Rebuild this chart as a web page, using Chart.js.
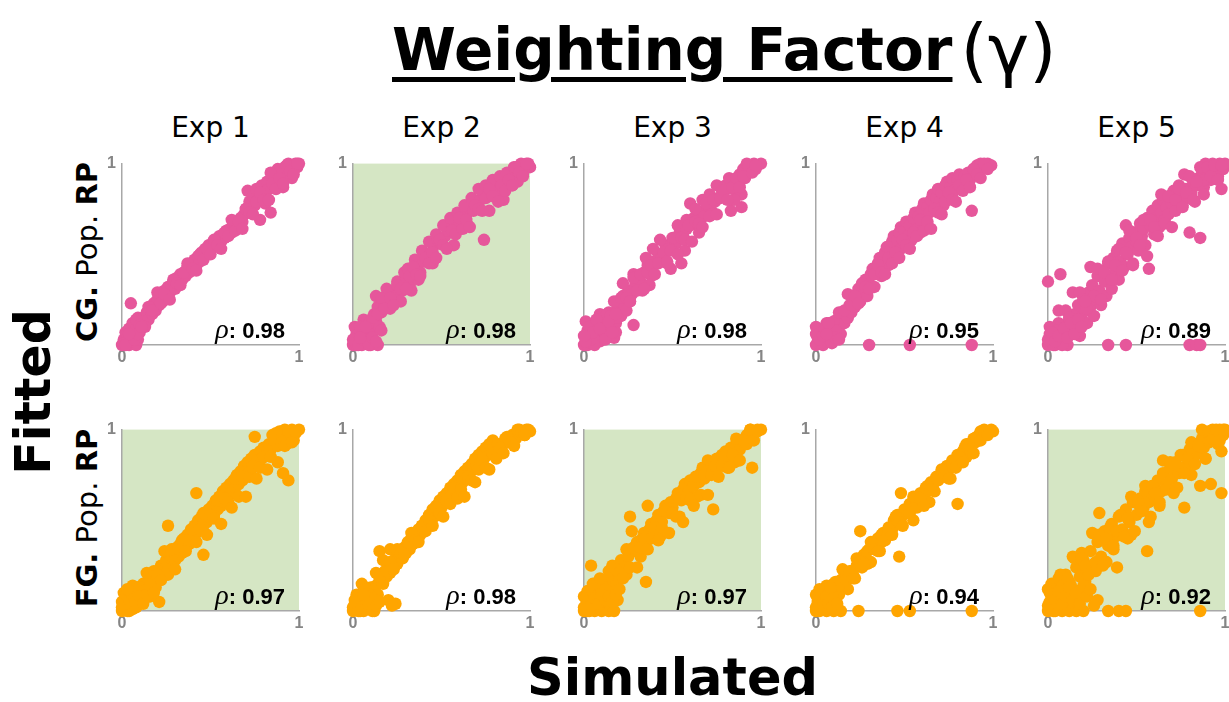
<!DOCTYPE html>
<html>
<head>
<meta charset="utf-8">
<script src="https://cdn.jsdelivr.net/npm/chart.js@4.4.1/dist/chart.umd.min.js"></script>
<style>
  html, body { margin: 0; padding: 0; }
  body { width: 1229px; height: 702px; background: #fff; position: relative; overflow: hidden; font-family: 'DejaVu Sans', sans-serif; color: #000; }
  .abs { position: absolute; white-space: nowrap; line-height: 1; }
  #title { left: 392px; top: 11px; }
  #title .wf { font-weight: bold; font-size: 58px; text-decoration: underline; text-decoration-thickness: 5px; text-underline-offset: 7px; }
  #title .gm { font-size: 70px; font-weight: normal; margin-left: 8px; position: relative; top: 4px; }
  .exp { font-size: 28px; text-align: center; width: 200px; top: 114px; }
  .rot { width: 0; height: 0; }
  .rot > div { position: absolute; left: 0; top: 0; transform: translate(-50%, -50%) rotate(-90deg); white-space: nowrap; line-height: 1; }
  #fitted > div { font-weight: bold; font-size: 49px; }
  .grp > div { font-size: 29px; }
  .grp b { font-weight: bold; }
  #simulated { font-weight: bold; font-size: 51px; top: 652px; width: 400px; text-align: center; }
  .rho { width: 200px; text-align: right; }
  .rho .r { font-family: 'Liberation Serif', serif; font-style: italic; font-size: 28px; }
  .rho .v { font-family: 'Liberation Sans', sans-serif; font-weight: bold; font-size: 22px; }
  .panel { position: absolute; }
</style>
</head>
<body>
<div id="title" class="abs"><span class="wf">Weighting Factor</span><span class="gm">(γ)</span></div>
<div id="fitted" class="abs rot"><div>Fitted</div></div>
<div id="simulated" class="abs">Simulated</div>

<script>
// Column headings, row groups and correlation labels
const experiments = ['Exp 1', 'Exp 2', 'Exp 3', 'Exp 4', 'Exp 5'];
const groupNames = ['CG.', 'FG.'];
const rhoCG = [0.98, 0.98, 0.98, 0.95, 0.89];
const rhoFG = [0.97, 0.98, 0.97, 0.94, 0.92];
// Panels whose plot area is highlighted
const highlightCG = [false, true, false, false, false];
const highlightFG = [true, false, true, false, true];
const axisTicks = [0, 1];

// Simulated vs fitted RP values, stored as flat (x, y) pairs in hundredths
const cgExp1 = [0,0, 2,1, 4,0, 6,1, 8,0, 1,3, 3,4, 5,2, 7,5, 9,3, 2,7, 5,23, 4,9, 6,12, 8,9, 10,7, 11,12, 9,15, 12,15, 13,11, 14,18, 15,14, 16,20, 17,17, 18,23, 19,19, 20,25, 21,22, 22,28, 23,24, 24,30, 25,27, 26,32, 27,29, 28,33, 29,35, 30,31, 31,37, 32,34, 33,39, 34,36, 35,40, 36,38, 37,43, 38,40, 39,45, 40,42, 41,47, 42,44, 43,49, 44,46, 45,51, 46,48, 47,53, 48,50, 49,55, 50,52, 51,56, 52,54, 53,58, 54,56, 55,60, 56,57, 57,61, 58,59, 59,63, 60,61, 61,64, 62,62, 63,66, 64,65, 65,68, 66,66, 67,70, 68,68, 69,72, 70,75, 71,85, 72,79, 73,73, 74,82, 75,77, 76,86, 77,80, 78,69, 79,88, 80,84, 81,78, 82,90, 83,86, 84,73, 85,92, 86,88, 87,94, 88,91, 89,96, 90,93, 91,87, 92,98, 93,95, 94,100, 95,97, 96,92, 97,99, 98,100, 99,98, 100,100, 88,97, 84,95,
  3,6, 5,3, 8,14, 10,11, 13,10, 15,21, 17,19, 20,29, 22,23, 24,28, 27,25, 29,36, 31,34, 33,33, 35,40, 37,45, 40,42, 42,41, 44,50, 46,47, 48,53, 50,50, 52,58, 54,55, 56,53, 58,62, 60,60, 62,69, 64,63, 66,68, 68,64, 70,75, 72,73, 74,72, 76,79, 78,84, 80,80, 83,80, 85,89, 87,86, 89,92, 91,89, 93,99, 95,96, 97,94, 99,100, 1,1, 3,2, 5,5, 2,0, 7,3, 9,6, 11,10, 4,6];

const cgExp2 = [0,0, 1,3, 3,1, 5,0, 8,2, 10,0, 12,1, 14,0, 2,6, 1,10, 6,14, 4,8, 8,7, 11,9, 13,13, 9,12, 15,10, 12,17, 14,21, 16,18, 18,22, 13,27, 17,26, 20,25, 22,29, 24,27, 19,31, 26,32, 28,30, 25,35, 30,36, 32,33, 29,40, 34,38, 31,42, 36,44, 38,40, 35,47, 40,46, 42,49, 39,52, 44,51, 46,55, 43,57, 48,58, 50,56, 47,61, 52,60, 54,63, 51,66, 56,65, 58,62, 55,70, 60,68, 62,71, 59,73, 64,72, 66,75, 63,77, 74,58, 68,74, 70,78, 67,81, 72,80, 74,83, 71,86, 76,82, 78,85, 75,88, 80,87, 82,84, 79,91, 84,89, 86,86, 83,93, 88,91, 90,88, 87,95, 92,93, 94,96, 91,98, 96,94, 98,99, 95,100, 100,98, 97,97, 99,100, 93,90, 85,80, 77,74, 65,66, 57,55, 45,45, 37,36, 27,24, 21,20, 33,30,
  2,0, 4,10, 6,7, 9,6, 11,15, 14,17, 16,26, 18,20, 21,26, 23,22, 25,33, 27,31, 30,31, 32,38, 34,43, 36,39, 38,38, 41,48, 43,45, 45,51, 47,48, 49,58, 51,55, 53,53, 56,63, 58,61, 60,70, 62,64, 64,69, 66,65, 69,77, 71,75, 73,74, 75,81, 77,86, 79,82, 82,79, 84,88, 86,85, 88,91, 90,88, 92,98, 94,95, 96,93, 98,100, 0,3, 3,0, 6,3, 9,0, 11,4, 13,2, 7,10, 4,4, 16,8];

const cgExp3 = [0,0, 2,0, 4,1, 1,13, 3,6, 5,3, 6,9, 7,5, 8,12, 9,2, 10,8, 11,15, 12,6, 13,11, 14,18, 15,9, 16,14, 17,4, 18,12, 19,20, 21,16, 28,11, 20,24, 22,27, 23,22, 25,30, 22,34, 27,28, 29,33, 30,38, 32,35, 28,39, 34,40, 36,44, 38,38, 35,48, 40,46, 42,50, 39,53, 44,48, 46,55, 43,58, 49,42, 48,53, 50,59, 52,56, 55,45, 54,62, 56,60, 53,66, 58,69, 60,78, 58,64, 60,66, 62,70, 64,67, 66,73, 63,75, 68,71, 70,77, 67,80, 72,74, 74,79, 71,83, 75,88, 76,81, 78,85, 83,74, 80,88, 89,76, 82,92, 84,86, 86,89, 88,94, 87,85, 90,97, 92,100, 94,98, 96,100, 98,99, 100,100, 91,92, 93,95, 95,96, 97,97, 89,83, 85,80, 65,62, 57,52, 47,45, 37,33, 26,24, 33,30, 24,19, 9,16, 18,7, 6,0,
  2,8, 4,3, 7,10, 9,17, 11,8, 13,17, 15,16, 17,24, 19,15, 21,26, 24,26, 26,24, 28,37, 30,30, 32,39, 34,31, 36,40, 38,44, 40,39, 42,45, 45,51, 47,46, 49,52, 51,59, 53,50, 55,59, 57,58, 59,66, 61,57, 63,68, 65,67, 67,65, 69,78, 71,71, 73,80, 75,72, 77,81, 79,85, 81,80, 84,87, 86,92, 88,87, 90,93, 93,99, 95,95, 97,99, 1,2, 3,10, 5,7, 7,14, 9,9, 12,3, 14,13, 16,7, 18,17, 0,5];

const cgExp4 = [0,0, 2,1, 4,0, 1,4, 3,7, 5,3, 0,10, 6,9, 7,2, 8,6, 9,11, 10,4, 11,8, 12,14, 13,10, 14,6, 15,16, 30,0, 53,0, 88,0, 16,12, 17,19, 18,15, 19,22, 20,18, 21,25, 22,21, 23,28, 25,24, 24,31, 26,29, 27,33, 29,27, 28,36, 30,34, 31,39, 33,32, 32,42, 34,40, 35,45, 37,38, 36,48, 38,46, 39,51, 41,44, 40,54, 42,52, 43,57, 45,50, 44,60, 46,58, 47,62, 49,56, 48,65, 50,63, 52,60, 51,68, 53,66, 55,70, 57,64, 56,73, 58,71, 60,75, 62,69, 61,78, 63,76, 65,80, 64,73, 66,83, 68,81, 70,79, 69,86, 71,84, 73,88, 75,82, 74,90, 76,87, 78,85, 77,92, 80,91, 82,89, 88,74, 81,94, 84,93, 86,95, 89,97, 91,99, 93,100, 95,98, 97,100, 99,99, 92,96, 87,91, 83,87, 72,77, 59,62, 54,58, 47,52, 3,2, 10,13,
  1,1, 3,1, 6,12, 8,9, 11,8, 13,18, 16,19, 18,28, 20,22, 22,27, 24,23, 26,34, 28,32, 30,31, 33,39, 35,44, 37,40, 39,39, 41,48, 43,45, 45,51, 47,48, 49,58, 51,55, 53,53, 55,62, 57,60, 59,69, 61,63, 63,68, 65,64, 67,75, 69,73, 71,72, 73,79, 75,84, 77,80, 79,79, 81,88, 83,85, 85,91, 87,87, 89,97, 91,94, 93,92, 95,100, 97,97, 0,6, 2,3, 4,5, 5,9, 7,12, 9,1, 11,4, 13,3, 6,6];

const cgExp5 = [0,0, 2,2, 4,0, 1,6, 3,9, 5,4, 7,1, 6,12, 8,7, 9,3, 10,10, 11,0, 12,14, 13,6, 14,9, 0,35, 7,39, 15,17, 16,12, 17,22, 18,5, 19,15, 20,26, 21,19, 22,12, 23,29, 24,21, 25,33, 26,16, 27,25, 28,38, 29,30, 30,22, 31,41, 32,35, 33,27, 34,0, 44,0, 80,0, 84,0, 86,0, 34,45, 35,38, 36,31, 37,48, 38,40, 39,52, 40,36, 41,46, 42,56, 43,43, 44,66, 45,50, 46,59, 47,54, 48,45, 49,62, 50,57, 51,52, 52,67, 53,60, 54,64, 55,55, 57,42, 56,70, 58,66, 59,74, 60,61, 61,70, 62,77, 63,65, 64,73, 65,80, 66,69, 67,76, 68,72, 69,82, 70,78, 71,85, 72,74, 73,80, 74,88, 75,83, 76,77, 77,94, 78,86, 80,62, 79,81, 82,90, 81,84, 83,79, 86,59, 84,88, 85,92, 87,96, 88,87, 89,100, 90,94, 91,98, 92,91, 93,100, 94,96, 95,98, 96,93, 97,100, 98,86, 99,97, 100,100, 88,91,
  1,10, 3,0, 5,8, 6,19, 8,0, 10,19, 12,15, 14,29, 16,9, 18,29, 20,25, 22,20, 24,43, 26,27, 28,42, 30,25, 32,40, 34,46, 36,36, 38,44, 40,53, 42,41, 44,51, 46,63, 48,44, 50,59, 52,55, 54,69, 56,49, 58,69, 60,65, 62,60, 64,83, 66,67, 68,82, 70,65, 72,80, 74,86, 76,76, 78,84, 80,93, 82,80, 84,90, 86,98, 88,83, 90,98, 92,93, 94,99, 96,91, 98,99, 0,3, 2,7, 4,2, 6,5, 9,9, 11,4, 13,12, 15,6, 17,14, 19,10, 21,24];

const fgExp1 = [0,0, 2,1, 4,0, 6,1, 1,10, 0,5, 3,4, 5,7, 7,3, 8,9, 9,13, 10,5, 11,10, 12,15, 13,7, 14,12, 15,17, 16,11, 17,20, 18,15, 19,13, 21,5, 20,22, 21,18, 22,25, 23,19, 24,23, 25,28, 26,47, 26,20, 27,30, 28,25, 29,33, 30,28, 31,35, 32,30, 33,37, 34,32, 35,40, 36,35, 37,42, 38,37, 39,45, 40,40, 41,47, 42,65, 42,43, 43,50, 44,45, 46,31, 45,52, 46,47, 47,54, 48,49, 49,56, 50,51, 51,58, 52,53, 53,61, 54,56, 55,63, 56,58, 57,66, 58,60, 59,68, 60,63, 61,70, 62,66, 63,72, 64,68, 65,75, 66,70, 67,77, 68,72, 69,80, 70,74, 71,82, 72,77, 73,84, 75,96, 74,80, 75,86, 76,82, 78,88, 79,84, 80,90, 82,87, 83,92, 84,89, 86,94, 85,97, 88,91, 89,99, 91,76, 94,72, 90,95, 92,100, 94,97, 96,100, 98,98, 100,100, 97,94, 93,92, 87,98,
  1,6, 3,0, 5,6, 6,14, 8,2, 10,13, 12,11, 14,21, 16,8, 18,22, 20,20, 22,17, 24,33, 26,23, 28,34, 30,23, 32,34, 34,39, 36,33, 38,39, 40,45, 42,38, 44,45, 46,54, 48,42, 50,53, 52,51, 54,61, 56,48, 58,62, 60,60, 62,57, 64,73, 66,63, 68,74, 70,63, 72,74, 74,79, 76,73, 78,79, 80,85, 82,78, 84,85, 86,94, 88,82, 90,93, 92,91, 94,99, 96,93, 98,99, 0,2, 2,4, 4,6, 6,9, 8,5, 10,8, 12,4, 14,9, 16,14, 18,10, 3,12];

const fgExp2 = [0,0, 2,1, 4,0, 6,0, 8,2, 10,1, 12,0, 1,4, 3,3, 5,6, 7,4, 9,7, 11,5, 24,4, 5,15, 2,9, 8,10, 10,13, 12,11, 13,14, 14,9, 15,33, 21,34, 15,17, 16,20, 17,15, 18,22, 19,19, 20,24, 21,21, 22,27, 23,24, 24,29, 25,26, 26,30, 27,33, 28,29, 29,35, 30,32, 31,37, 32,34, 33,40, 34,37, 35,42, 36,39, 37,45, 38,42, 39,47, 40,44, 41,50, 42,47, 43,53, 44,50, 45,56, 46,52, 47,58, 48,55, 49,61, 50,57, 51,63, 52,60, 53,65, 54,62, 55,68, 56,64, 57,70, 58,66, 59,72, 60,69, 61,75, 62,71, 63,77, 64,73, 65,79, 66,76, 67,81, 68,78, 69,84, 70,80, 71,86, 72,82, 73,88, 74,84, 75,90, 76,86, 77,92, 78,88, 79,94, 80,90, 82,92, 84,89, 86,95, 88,93, 90,97, 92,95, 94,100, 96,98, 98,100, 100,99, 97,97, 99,100, 93,98,
  2,4, 4,1, 7,12, 9,9, 11,7, 13,21, 15,19, 17,28, 19,22, 21,27, 23,23, 25,34, 27,32, 29,31, 31,38, 33,43, 35,39, 37,38, 39,47, 41,44, 43,50, 45,47, 47,57, 49,54, 51,52, 53,61, 55,59, 57,68, 59,62, 61,67, 63,63, 65,74, 67,72, 69,71, 71,78, 73,83, 75,79, 77,78, 79,87, 81,84, 83,90, 85,87, 87,96, 89,93, 91,91, 93,100, 95,98, 97,97, 0,2, 1,6, 3,0, 5,2, 7,1, 9,3, 11,0, 13,3, 15,5, 6,9, 20,6, 22,3];

const fgExp3 = [0,0, 2,0, 4,1, 6,0, 8,2, 10,0, 12,1, 14,0, 1,3, 3,5, 5,2, 7,6, 9,4, 11,7, 13,5, 15,3, 17,0, 0,8, 2,11, 4,25, 6,12, 8,14, 10,10, 12,16, 14,12, 16,17, 18,14, 20,19, 35,16, 19,6, 22,22, 24,20, 26,52, 36,58, 27,44, 16,25, 21,28, 25,30, 28,33, 30,38, 31,35, 33,40, 34,43, 35,38, 37,45, 38,48, 40,44, 41,50, 42,53, 44,49, 45,55, 46,58, 48,54, 49,60, 50,57, 52,62, 53,65, 55,61, 56,67, 57,70, 59,66, 60,72, 62,69, 63,74, 65,71, 66,76, 70,83, 73,56, 67,79, 68,73, 70,78, 72,81, 73,76, 75,84, 76,80, 78,86, 79,83, 80,88, 82,85, 83,90, 84,87, 86,92, 88,89, 89,94, 95,79, 91,93, 92,97, 94,100, 96,98, 98,100, 100,100, 93,96, 85,82, 81,79, 64,63, 54,52, 43,41, 32,30, 23,24,
  1,7, 3,0, 5,7, 6,15, 8,3, 10,14, 12,12, 14,22, 16,9, 18,23, 20,21, 22,18, 24,34, 26,24, 28,35, 30,24, 32,35, 34,40, 36,34, 38,40, 40,46, 42,39, 44,46, 46,55, 48,43, 50,54, 52,52, 54,62, 56,49, 58,63, 60,61, 62,58, 64,74, 66,64, 68,75, 70,64, 72,75, 74,80, 76,74, 78,80, 80,86, 82,79, 84,86, 86,95, 88,83, 90,94, 92,92, 94,100, 96,94, 98,99, 0,2, 2,5, 4,3, 6,7, 8,4, 10,9, 12,6, 14,8, 16,5, 18,9, 5,15, 9,18, 20,12];

const fgExp4 = [0,0, 2,0, 4,1, 6,0, 8,1, 10,0, 1,4, 3,6, 5,3, 7,8, 9,5, 11,2, 0,9, 2,12, 4,10, 6,14, 8,11, 10,15, 12,13, 14,0, 24,0, 46,0, 53,0, 88,0, 14,17, 16,19, 18,12, 20,22, 22,18, 23,25, 25,44, 24,28, 26,24, 27,31, 28,29, 30,34, 31,27, 32,37, 34,35, 35,40, 37,38, 38,43, 40,41, 41,46, 42,44, 44,50, 45,48, 47,30, 46,53, 48,65, 48,51, 50,56, 51,54, 53,59, 54,57, 56,62, 57,60, 59,65, 60,63, 62,68, 63,66, 65,71, 66,69, 68,74, 69,72, 71,77, 72,75, 74,80, 75,78, 77,83, 78,81, 80,59, 80,86, 81,84, 83,88, 84,90, 86,92, 87,88, 89,95, 90,93, 92,97, 93,99, 95,100, 97,98, 99,100, 100,99, 91,96, 85,85, 76,73, 64,60, 55,50, 43,45, 36,33, 29,26, 21,20, 13,9,
  1,5, 3,2, 5,12, 7,9, 9,7, 11,16, 13,14, 15,23, 17,17, 19,22, 21,18, 23,29, 25,27, 27,26, 29,33, 31,38, 33,34, 35,33, 37,42, 39,39, 41,45, 43,42, 45,52, 47,49, 49,47, 51,56, 53,54, 55,63, 57,57, 59,62, 61,58, 63,69, 65,67, 67,66, 69,73, 71,78, 73,74, 75,73, 77,82, 79,79, 81,85, 83,82, 85,92, 87,89, 89,87, 91,96, 93,94, 95,99, 97,97, 0,2, 1,7, 2,3, 3,10, 4,5, 5,1, 6,8, 7,4, 8,13, 9,2, 10,7, 12,4];

const fgExp5 = [0,0, 2,1, 4,0, 6,2, 8,0, 10,1, 12,0, 14,2, 16,0, 18,1, 20,0, 1,5, 3,8, 5,4, 7,10, 9,6, 11,9, 13,5, 15,8, 17,11, 28,6, 34,0, 40,0, 44,0, 86,0, 0,12, 2,15, 4,11, 6,18, 8,14, 10,20, 12,16, 14,30, 16,24, 18,19, 20,28, 22,22, 24,33, 26,26, 28,38, 29,54, 30,30, 32,44, 34,36, 36,48, 38,41, 39,24, 40,52, 42,45, 44,56, 46,49, 48,60, 50,53, 52,62, 54,57, 56,33, 55,66, 57,60, 59,69, 60,63, 62,72, 64,66, 65,76, 67,70, 69,79, 70,73, 72,82, 74,76, 76,86, 77,57, 78,80, 80,89, 82,83, 84,92, 86,69, 85,87, 87,95, 88,90, 90,98, 92,70, 91,93, 93,100, 95,96, 97,100, 98,88, 98,65, 99,97, 100,100, 96,92, 89,84, 81,75, 73,68, 63,58, 58,52, 47,42, 37,34, 27,22, 21,16, 19,32, 33,27, 45,40,
  1,10, 3,0, 5,8, 7,20, 9,1, 11,18, 13,14, 15,29, 17,9, 19,29, 21,25, 23,20, 25,43, 27,27, 29,42, 31,25, 33,40, 35,46, 37,36, 39,44, 41,53, 43,41, 45,51, 47,63, 49,44, 51,59, 53,55, 55,69, 57,49, 59,69, 61,65, 63,60, 65,83, 67,67, 69,82, 71,65, 73,80, 75,86, 77,76, 79,84, 81,93, 83,81, 85,91, 87,100, 89,84, 91,99, 93,95, 95,100, 97,94, 99,100, 0,3, 2,9, 4,6, 6,11, 8,4, 10,8, 12,13, 14,6, 16,10, 18,4, 20,14, 22,8, 24,12, 26,3];

const cgSeries = [cgExp1, cgExp2, cgExp3, cgExp4, cgExp5];
const fgSeries = [fgExp1, fgExp2, fgExp3, fgExp4, fgExp5];

// Grid geometry (pixels)
const colLeft = [122, 353, 584, 816, 1048];
const rowTop = [158, 424];
const plotW = 177, plotH = 187;
const padL = 26, padT = 10, padR = 10, padB = 26;

const rowColor = ['#E6579B', '#FFA500'];
const shadeColor = '#D5E6C4';
const axisColor = '#A8A8A8';
const tickColor = '#858585';

// Tick labels: small bold grey digits
Chart.defaults.font.family = 'Liberation Sans';
Chart.defaults.font.size = 16;
Chart.defaults.font.weight = 'bold';
Chart.defaults.color = tickColor;

function toPoints(flat) {
  const pts = [];
  for (let i = 0; i < flat.length; i += 2) pts.push({ x: flat[i] / 100, y: flat[i + 1] / 100 });
  return pts;
}

// Fills the plot area behind highlighted panels
const shadePlugin = {
  id: 'shade',
  beforeDraw(chart, args, opts) {
    if (!opts.on) return;
    const a = chart.chartArea, ctx = chart.ctx;
    ctx.save();
    ctx.fillStyle = opts.color;
    ctx.fillRect(a.left, a.top, a.right - a.left, a.bottom - a.top);
    ctx.restore();
  }
};

function makePanel(row, col) {
  const flat = row === 0 ? cgSeries[col] : fgSeries[col];
  const shaded = row === 0 ? highlightCG[col] : highlightFG[col];
  const w = plotW + padL + padR, h = plotH + padT + padB;
  const wrap = document.createElement('div');
  wrap.className = 'panel';
  wrap.style.left = (colLeft[col] - padL) + 'px';
  wrap.style.top = (rowTop[row] - padT) + 'px';
  wrap.style.width = w + 'px';
  wrap.style.height = h + 'px';
  const canvas = document.createElement('canvas');
  canvas.width = w; canvas.height = h;
  canvas.style.width = w + 'px'; canvas.style.height = h + 'px';
  wrap.appendChild(canvas);
  document.body.appendChild(wrap);

  const tickFont = { family: 'Liberation Sans', size: 16, weight: 'bold' };
  new Chart(canvas, {
    type: 'scatter',
    data: {
      datasets: [{
        data: toPoints(flat),
        backgroundColor: rowColor[row],
        borderColor: rowColor[row],
        borderWidth: 0,
        pointRadius: 6.2,
        pointHoverRadius: 6.2,
        clip: false
      }]
    },
    options: {
      responsive: false,
      animation: false,
      events: [],
      layout: { padding: { left: 0, top: padT, right: padR, bottom: 0 } },
      plugins: {
        legend: { display: false },
        tooltip: { enabled: false },
        shade: { on: shaded, color: shadeColor }
      },
      scales: {
        x: {
          type: 'linear', min: axisTicks[0], max: axisTicks[1],
          afterFit(s) { s.height = padB; },
          grid: { display: false, drawTicks: false },
          border: { display: true, color: axisColor, width: 1.5 },
          ticks: {
            stepSize: 1, autoSkip: false, maxRotation: 0, padding: 3,
            color: tickColor, font: tickFont,
            callback: v => axisTicks.includes(v) ? String(v) : ''
          }
        },
        y: {
          type: 'linear', min: axisTicks[0], max: axisTicks[1],
          afterFit(s) { s.width = padL; },
          grid: { display: false, drawTicks: false },
          border: { display: true, color: axisColor, width: 1.5 },
          ticks: {
            stepSize: 1, autoSkip: false, padding: 6,
            color: tickColor, font: tickFont,
            callback: v => v === axisTicks[1] ? String(v) : ''
          }
        }
      }
    },
    plugins: [shadePlugin]
  });

  // Correlation label in the lower right of the panel
  const rho = row === 0 ? rhoCG[col] : rhoFG[col];
  const lab = document.createElement('div');
  lab.className = 'abs rho';
  lab.style.left = (colLeft[col] + plotW - 14 - 200) + 'px';
  lab.style.top = (rowTop[row] + plotH - 30) + 'px';
  lab.innerHTML = '<span class="r">ρ</span><span class="v">: ' + rho.toFixed(2) + '</span>';
  document.body.appendChild(lab);
}

// Column headings
experiments.forEach((name, c) => {
  const d = document.createElement('div');
  d.className = 'abs exp';
  d.textContent = name;
  d.style.left = (colLeft[c] + plotW / 2 - 100) + 'px';
  document.body.appendChild(d);
});

// Row labels
groupNames.forEach((g, r) => {
  const d = document.createElement('div');
  d.className = 'abs rot grp';
  d.style.left = '87px';
  d.style.top = (rowTop[r] + plotH / 2) + 'px';
  d.innerHTML = '<div><b>' + g + '</b> Pop. <b>RP</b></div>';
  document.body.appendChild(d);
});

const fitted = document.getElementById('fitted');
fitted.style.left = '33px';
fitted.style.top = '392px';
const sim = document.getElementById('simulated');
sim.style.left = (colLeft[2] + plotW / 2 - 200) + 'px';

for (let r = 0; r < 2; r++) for (let c = 0; c < 5; c++) makePanel(r, c);
</script>
</body>
</html>
